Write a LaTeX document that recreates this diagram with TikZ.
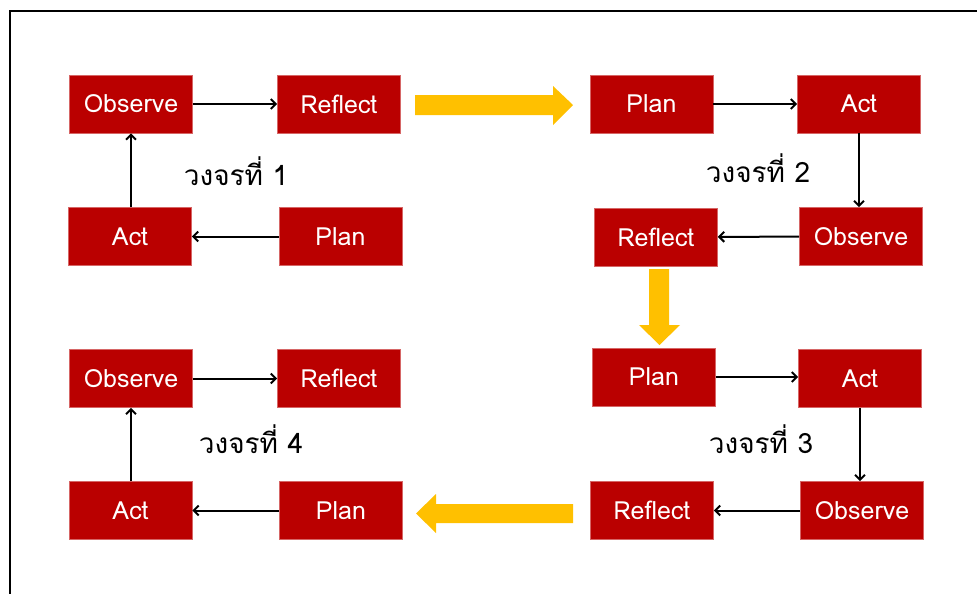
\documentclass[tikz,border=0pt]{standalone}
\usepackage{fontspec}
\setmainfont[Script=Thai]{Loma}
\newfontfamily\thaifont[Script=Thai]{Loma}
\usetikzlibrary{arrows.meta}
\definecolor{boxred}{RGB}{186,0,0}
\definecolor{arrowyellow}{RGB}{255,192,0}
\tikzset{
  stagebox/.style={rectangle, fill=boxred, draw=boxred!60, line width=0.6pt,
    minimum width=123pt, minimum height=58pt, inner sep=0pt,
    text=white, font=\fontsize{25}{25}\selectfont},
  cyclelabel/.style={font=\thaifont\fontsize{28}{28}\selectfont, text=black, inner sep=0pt},
  flow/.style={draw=black, line width=2pt, -{Straight Barb[length=5pt,width=10pt,line width=2pt]}},
  bigarrow/.style={fill=arrowyellow, draw=none}
}
\begin{document}
\begin{tikzpicture}[x=1pt,y=-1pt]
\useasboundingbox (0,0) rectangle (977,594);
\clip (0,0) rectangle (977,594);
\fill[white] (0,0) rectangle (977,594);
% frame
\draw[line width=2pt] (9.5,620) -- (9.5,11.5) -- (1000,11.5);

% cycle 1
\node[stagebox] (o1) at (131,104) {Observe};
\node[stagebox] (r1) at (339,104) {Reflect};
\node[stagebox] (a1) at (130,236.5) {Act};
\node[stagebox] (p1) at (340.5,236.5) {Plan};
\node[cyclelabel] (l1) at (236,171) {วงจรที่ 1};
\draw[flow] (o1) -- (r1);
\draw[flow] (p1) -- (a1);
\draw[flow] (a1.north -| o1) -- (o1.south);

% cycle 2
\node[stagebox] (p2) at (651.5,104) {Plan};
\node[stagebox] (a2) at (859,104) {Act};
\node[stagebox] (o2) at (861,236.5) {Observe};
\node[stagebox] (r2) at (656,237) {Reflect};
\node[cyclelabel] (l2) at (758,168) {วงจรที่ 2};
\draw[flow] (p2) -- (a2);
\draw[flow] (a2.south) -- (a2.south |- o2.north);
\draw[flow] (o2) -- (r2);

% cycle 3
\node[stagebox] (p3) at (654,377) {Plan};
\node[stagebox] (a3) at (860,378.5) {Act};
\node[stagebox] (o3) at (862,510.5) {Observe};
\node[stagebox] (r3) at (652,510) {Reflect};
\node[cyclelabel] (l3) at (761,439) {วงจรที่ 3};
\draw[flow] (p3.east) -- (p3.east -| a3.west);
\draw[flow] (a3.south) -- (a3.south |- o3.north);
\draw[flow] (o3.west) -- (o3.west -| r3.east);

% cycle 4
\node[stagebox] (o4) at (131,378.5) {Observe};
\node[stagebox] (r4) at (339,378.5) {Reflect};
\node[stagebox] (a4) at (130.5,510.5) {Act};
\node[stagebox] (p4) at (341,510.5) {Plan};
\node[cyclelabel] (l4) at (251,439) {วงจรที่ 4};
\draw[flow] (o4) -- (r4);
\draw[flow] (p4) -- (a4);
\draw[flow] (a4.north -| o4) -- (o4.south);

% big yellow arrows between cycles
\fill[bigarrow] (415,95) -- (553,95) -- (553,86) -- (573,105) -- (553,125) -- (553,115) -- (415,115) -- cycle;
\fill[bigarrow] (649,269) -- (669,269) -- (669,325) -- (680,325) -- (659.5,345) -- (639,325) -- (649,325) -- cycle;
\fill[bigarrow] (573,504) -- (436,504) -- (436,494) -- (416,513.5) -- (436,533) -- (436,523) -- (573,523) -- cycle;
\end{tikzpicture}
\end{document}
